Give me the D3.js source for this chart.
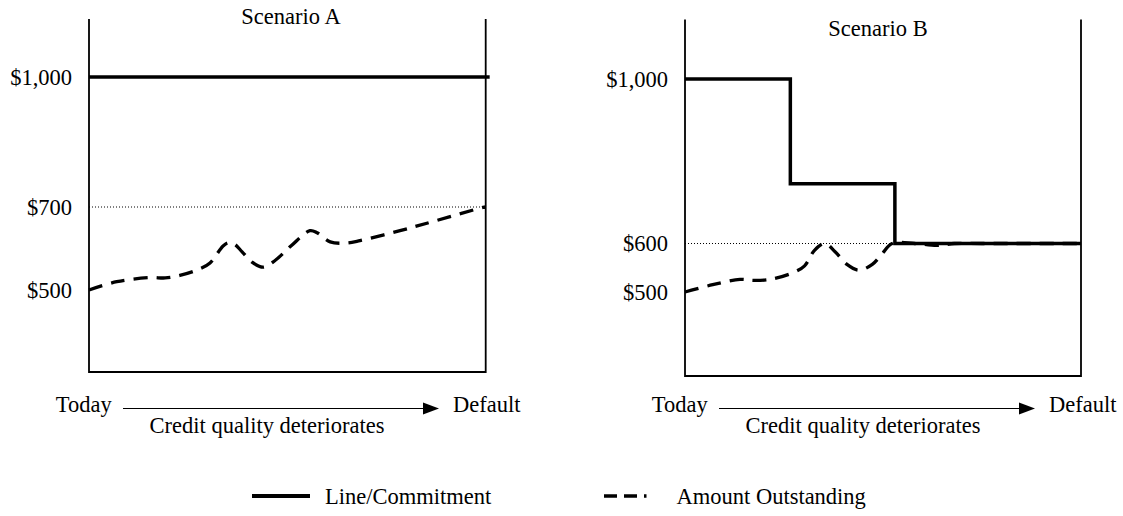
<!DOCTYPE html>
<html>
<head>
<meta charset="utf-8">
<script src="https://cdn.jsdelivr.net/npm/d3@7"></script>
<style>
  body { margin: 0; background: #fff; }
  svg { display: block; font-family: "Liberation Serif", "Times New Roman", serif; font-size: 22.5px; }
</style>
</head>
<body>
<svg id="chart" width="1123" height="516"></svg>
<script>

// time runs from 0 (today) to 100 (default)
const titles = ['Scenario A', 'Scenario B'];

const ticksA = [1000, 700, 500];
const ticksB = [1000, 600, 500];

const commitmentA = [[0, 1000], [101, 1000]];
const commitmentB = [[0, 1000], [26.6, 745], [53, 600], [100, 600]];

const outstandingA = [
  [0, 500], [7, 520], [15.4, 530], [19.2, 529], [22.9, 535], [28, 551], [30.5, 565],
  [33.8, 606], [35.2, 614], [36.6, 611], [38.6, 592], [41.1, 567], [43.9, 555],
  [46.9, 571], [50.9, 606], [55.7, 643], [57.5, 638], [60.8, 616], [64.5, 613],
  [68.3, 619], [78.4, 643], [86.7, 665], [99.3, 699], [100, 700]
];
const outstandingB = [
  [0, 500], [7, 515], [13.9, 526], [17.3, 524], [21.6, 526], [27.6, 541], [30.2, 554],
  [32.7, 586], [35.3, 600], [37.9, 583], [40.9, 557], [43.9, 545], [47.3, 557],
  [49.8, 579], [52.3, 600], [58, 600], [63.6, 596], [68, 600], [75, 600], [100, 600]
];

const referenceA = [[0, 700], [100, 700]];
const referenceB = [[0, 600], [53, 600]];

const axisStart = 'Today';
const axisEnd = 'Default';
const axisCaption = 'Credit quality deteriorates';
const legendLabels = ['Line/Commitment', 'Amount Outstanding'];


const panels = [
  {title: titles[0], ticks: ticksA, commitment: commitmentA, outstanding: outstandingA, reference: referenceA,
   left: 89, right: 485.7, top: 19, bottom: 372, yRange: [290, 207, 77], titleX: 291, titleY: 24},
  {title: titles[1], ticks: ticksB, commitment: commitmentB, outstanding: outstandingB, reference: referenceB,
   left: 685, right: 1081, top: 19.5, bottom: 376, yRange: [292, 243.5, 79], titleX: 878, titleY: 36}
];

const svg = d3.select('#chart');


function drawPanel(selection, p) {
  const x = d3.scaleLinear().domain([0, 100]).range([p.left, p.right]);
  // hand drawn figure: each panel has its own piecewise scale through its ticks
  const y = d3.scaleLinear().domain(p.ticks.slice().reverse()).range(p.yRange);

  selection.append('path')
      .attr('d', `M${p.left},${p.top}V${p.bottom}H${p.right}V${p.top}`)
      .attr('fill', 'none')
      .attr('stroke', '#000')
      .attr('stroke-width', 1.8);

  selection.append('text')
      .attr('x', p.titleX)
      .attr('y', p.titleY)
      .attr('text-anchor', 'middle')
      .text(p.title);

  const line = d3.line().x(d => x(d[0])).y(d => y(d[1]));

  selection.append('path')
      .datum(p.reference)
      .attr('d', line)
      .attr('fill', 'none')
      .attr('stroke', '#000')
      .attr('stroke-width', 1)
      .attr('stroke-dasharray', '1,2');

  selection.append('path')
      .datum(p.outstanding)
      .attr('d', line.curve(d3.curveCatmullRom))
      .attr('fill', 'none')
      .attr('stroke', '#000')
      .attr('stroke-width', 3.3)
      .attr('stroke-dasharray', '14,9');

  selection.append('path')
      .datum(p.commitment)
      .attr('d', line.curve(d3.curveStepAfter))
      .attr('fill', 'none')
      .attr('stroke', '#000')
      .attr('stroke-width', 3.5);

  const axis = selection.append('g')
      .attr('transform', `translate(${p.left},0)`)
      .call(d3.axisLeft(y)
        .tickValues(p.ticks)
        .tickSize(0)
        .tickPadding(17)
        .tickFormat(d => '$' + d3.format(',')(d)));
  axis.attr('font-size', null).attr('font-family', null);
  axis.select('.domain').remove();
  axis.selectAll('text').attr('fill', '#000');

  // time axis under the panel
  const arrowY = 408.5;
  selection.append('text')
      .attr('x', p.left + 22.7)
      .attr('y', 412)
      .attr('text-anchor', 'end')
      .text(axisStart);
  selection.append('line')
      .attr('x1', p.left + 34)
      .attr('x2', p.left + 336)
      .attr('y1', arrowY)
      .attr('y2', arrowY)
      .attr('stroke', '#000')
      .attr('stroke-width', 1);
  selection.append('path')
      .attr('d', `M${p.left + 334},${arrowY - 6}L${p.left + 350},${arrowY}L${p.left + 334},${arrowY + 6}Z`)
      .attr('fill', '#000');
  selection.append('text')
      .attr('x', p.left + 364)
      .attr('y', 412)
      .text(axisEnd);
  selection.append('text')
      .attr('x', p.left + 178)
      .attr('y', 433)
      .attr('text-anchor', 'middle')
      .text(axisCaption);
}


function drawLegend(selection) {
  const ly = 496;
  selection.append('line')
      .attr('x1', 252).attr('x2', 310)
      .attr('y1', ly).attr('y2', ly)
      .attr('stroke', '#000')
      .attr('stroke-width', 4);
  selection.append('text')
      .attr('x', 325)
      .attr('y', ly + 7.5)
      .text(legendLabels[0]);
  selection.append('line')
      .attr('x1', 604).attr('x2', 646.5)
      .attr('y1', ly).attr('y2', ly)
      .attr('stroke', '#000')
      .attr('stroke-width', 3.5)
      .attr('stroke-dasharray', '13,7');
  selection.append('text')
      .attr('x', 676.5)
      .attr('y', ly + 7.5)
      .text(legendLabels[1]);
}


panels.forEach(p => svg.append('g').attr('class', 'panel').call(drawPanel, p));
svg.append('g').attr('class', 'legend').call(drawLegend);

</script>
</body>
</html>
